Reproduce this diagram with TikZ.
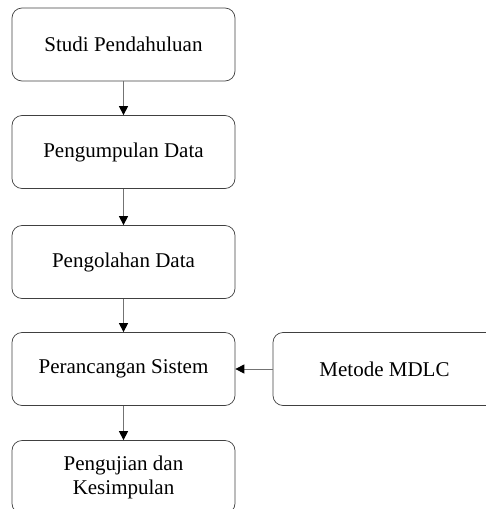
\documentclass[tikz,border=0pt]{standalone}
\usepackage{fontspec}
\setmainfont{Liberation Serif}
\usetikzlibrary{arrows.meta}

\begin{document}
\begin{tikzpicture}[
  x=1pt, y=1pt,
  tahap/.style={draw=black!75, line width=0.7pt, rounded corners=10pt,
    minimum width=223pt, minimum height=73pt, align=center,
    font=\fontsize{21}{24}\selectfont},
  panah/.style={draw=black!55, line width=0.8pt,
    -{Triangle[black, length=9pt, width=9pt]}}
]
  \useasboundingbox (0,0) rectangle (486,-509);

  \node[tahap] (studi)   at (123.5,-44.5) {Studi Pendahuluan};
  \node[tahap] (kumpul)  at (123.5,-152)  {Pengumpulan Data};
  \node[tahap] (olah)    at (123.5,-262)  {Pengolahan Data};
  \node[tahap] (rancang) at (123.5,-369)  {Perancangan Sistem};
  \node[tahap] (uji)     at (123.5,-477)  {Pengujian dan\\Kesimpulan};
  \node[tahap] (mdlc)    at (384.5,-369)  {Metode MDLC};

  \draw[panah] (studi)   -- (kumpul);
  \draw[panah] (kumpul)  -- (olah);
  \draw[panah] (olah)    -- (rancang);
  \draw[panah] (rancang) -- (uji);
  \draw[panah] (mdlc)    -- (rancang);
\end{tikzpicture}
\end{document}
